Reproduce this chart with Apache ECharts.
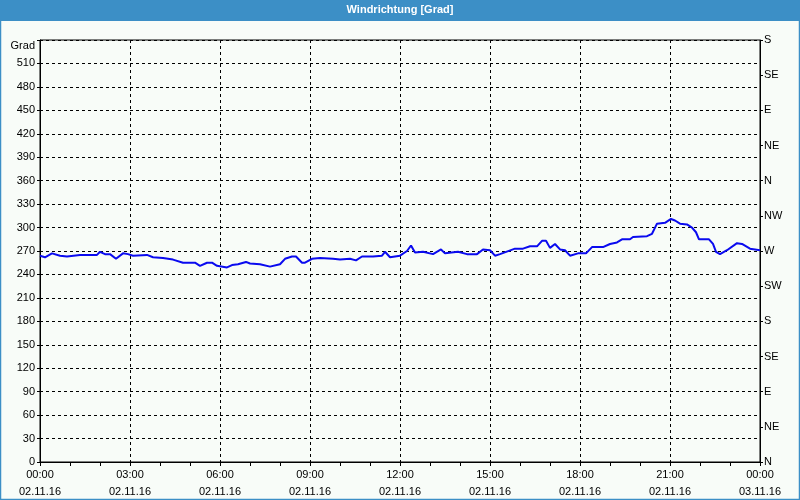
<!DOCTYPE html>
<html>
<head>
<meta charset="utf-8">
<script src="https://cdn.jsdelivr.net/npm/echarts@6/dist/echarts.min.js"></script>
<style>
  html, body { margin: 0; padding: 0; background: #f8fcf8; }
  #chart { width: 800px; height: 500px; }
</style>
</head>
<body>
<div id="chart"></div>
<script>
// minutes since 02.11.16 00:00
const minutes = [
  0, 10, 24, 40, 54, 80, 114, 120, 130, 140, 152, 166, 176, 186, 214, 226,
  246, 266, 286, 310, 320, 334, 344, 354, 374, 384, 396, 412, 420, 440, 460, 480,
  490, 504, 512, 524, 530, 544, 560, 586, 600, 620, 632, 644, 666, 684, 690, 700,
  720, 734, 742, 750, 766, 786, 802, 810, 836, 854, 874, 886, 900, 910, 920, 950,
  966, 980, 994, 1004, 1012, 1020, 1030, 1040, 1050, 1060, 1076, 1092, 1104, 1126, 1140, 1154,
  1164, 1180, 1186, 1214, 1224, 1234, 1250, 1262, 1270, 1280, 1294, 1304, 1312, 1318, 1338, 1346,
  1352, 1360, 1374, 1394, 1404, 1420, 1430, 1440
]
const direction = [
  264, 262, 267, 264, 263, 265, 265, 269, 266, 266, 260, 267, 266, 264, 265, 262,
  261, 259, 255, 255, 251, 255, 255, 251, 249, 252, 253, 256, 254, 253, 250, 253,
  260, 263, 263, 255, 255, 260, 261, 260, 259, 260, 258, 263, 263, 264, 269, 262,
  264, 270, 277, 268, 269, 266, 272, 267, 269, 266, 266, 272, 271, 264, 266, 273,
  273, 276, 276, 283, 283, 274, 279, 272, 271, 264, 267, 267, 275, 275, 279, 281,
  285, 285, 288, 289, 292, 305, 306, 311, 309, 305, 304, 300, 294, 285, 285, 279,
  269, 266, 271, 280, 279, 273, 272, 271
]
const timeLabels = ['00:00', '03:00', '06:00', '09:00', '12:00', '15:00', '18:00', '21:00', '00:00']
const dateLabels = ['02.11.16', '02.11.16', '02.11.16', '02.11.16', '02.11.16', '02.11.16', '02.11.16', '02.11.16', '03.11.16']
const compass = ['N', 'NE', 'E', 'SE', 'S', 'SW', 'W', 'NW', 'N', 'NE', 'E', 'SE', 'S']

const font = '"Liberation Sans", Arial, sans-serif'
const dashed = { color: '#000', type: [3, 3], width: 1 }

const chart = echarts.init(document.getElementById('chart'))
chart.setOption({
  animation: false,
  backgroundColor: '#f8fcf8',
  graphic: [
    { type: 'rect', shape: { x: 0, y: 0, width: 800, height: 21 }, style: { fill: '#3c8fc6' }, silent: true },
    { type: 'rect', shape: { x: 0.5, y: 0.5, width: 799, height: 499 }, style: { fill: null, stroke: '#3c8fc6', lineWidth: 1.5 }, silent: true },
    {
      type: 'text', left: 'center', top: 4,
      style: { text: 'Windrichtung [Grad]', fill: '#fff', font: 'bold 11px "Liberation Sans Narrow", "Liberation Sans", sans-serif' },
    },
  ],
  grid: {
    left: 40, right: 40, top: 40, bottom: 38, outerBoundsMode: 'none',
    show: true, borderColor: '#000', borderWidth: 1, backgroundColor: 'transparent',
  },
  xAxis: {
    type: 'value', min: 0, max: 1440, interval: 180,
    axisLine: { lineStyle: { color: '#000' } },
    axisTick: { show: true, length: 4, lineStyle: { color: '#000' } },
    minorTick: { show: true, splitNumber: 3, length: 4, lineStyle: { color: '#000' } },
    splitLine: { show: true, lineStyle: dashed },
    axisLabel: {
      color: '#000', fontFamily: font, fontSize: 11, lineHeight: 17, margin: 4,
      formatter: (v) => {
        const i = Math.round(v / 180)
        return timeLabels[i] + '\n' + dateLabels[i]
      },
    },
  },
  yAxis: [
    {
      type: 'value', min: 0, max: 540, interval: 30,
      axisLine: { show: true, lineStyle: { color: '#000' } },
      axisTick: { show: true, length: 3, lineStyle: { color: '#000' } },
      splitLine: { show: true, lineStyle: dashed },
      axisLabel: {
        color: '#000', fontFamily: font, fontSize: 11, margin: 5,
        formatter: (v) => (v === 540 ? '{g|Grad}' : String(v)),
        rich: { g: { color: '#000', fontFamily: font, fontSize: 11, padding: [12, 0, 0, 0] } },
      },
    },
    {
      type: 'value', min: 0, max: 540, interval: 45, position: 'right',
      axisLine: { show: true, lineStyle: { color: '#000' } },
      axisTick: { show: true, length: 3, lineStyle: { color: '#000' } },
      splitLine: { show: false },
      axisLabel: {
        color: '#000', fontFamily: font, fontSize: 11, margin: 4,
        formatter: (v) => compass[Math.round(v / 45)],
      },
    },
  ],
  series: [
    {
      type: 'line', yAxisIndex: 0,
      data: minutes.map((m, i) => [m, direction[i]]),
      symbol: 'none',
      lineStyle: { color: '#0a0aef', width: 2 },
    },
  ],
})
</script>
</body>
</html>
